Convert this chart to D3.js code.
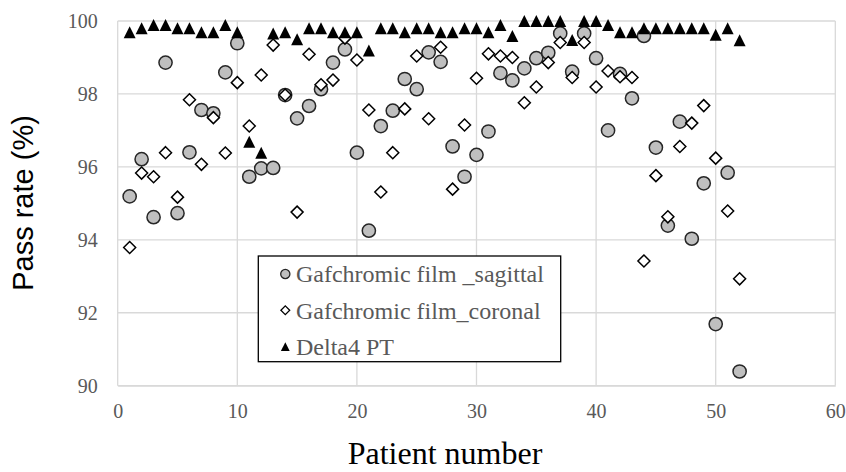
<!DOCTYPE html>
<html>
<head>
<meta charset="utf-8">
<script src="https://cdn.jsdelivr.net/npm/d3@7"></script>
<style>
  body { margin: 0; background: #fff; }
  .serif { font-family: "Liberation Serif", Tinos, "Times New Roman", "DejaVu Serif", serif; }
</style>
</head>
<body>
<div id="chart"></div>
<script>
// Pass rate per patient - three measurement methods

const patients = [1,2,3,4,5,6,7,8,9,10,11,12,13,14,15,16,17,18,19,20,21,22,23,24,25,26,
  27,28,29,30,31,32,33,34,35,36,37,38,39,40,41,42,43,44,45,46,47,48,49,50,51,52];

const sagittal = [95.19, 96.21, 94.62, 98.86, 94.73, 96.40, 97.56, 97.47, 98.59, 99.39,
  95.73, 95.96, 95.97, 97.97, 97.33, 97.67, 98.13, 98.86, 99.22, 96.39,
  94.25, 97.12, 97.54, 98.41, 98.13, 99.14, 98.88, 96.56, 95.73, 96.33,
  96.97, 98.57, 98.37, 98.70, 98.98, 99.13, 99.66, 98.61, 99.66, 98.98,
  97.00, 98.55, 97.88, 99.59, 96.53, 94.39, 97.24, 94.03, 95.55, 91.69,
  95.84, 90.39];

const coronal = [93.79, 95.83, 95.73, 96.39, 95.17, 97.84, 96.07, 97.35, 96.38, 98.31,
  97.12, 98.52, 99.34, 97.97, 94.76, 99.09, 98.25, 98.38, 99.53, 98.93,
  97.56, 95.31, 96.39, 97.59, 99.04, 97.32, 99.28, 95.39, 97.15, 98.43,
  99.10, 99.04, 99.00, 97.76, 98.19, 98.86, 99.41, 98.45, 99.41, 98.19,
  98.63, 98.47, 98.45, 93.42, 95.76, 94.63, 96.56, 97.20, 97.68, 96.24,
  94.79, 92.93];

const delta4 = [99.69, 99.80, 99.89, 99.89, 99.80, 99.80, 99.69, 99.69, 99.89, 99.69,
  96.69, 96.39, 99.66, 99.69, 99.50, 99.80, 99.80, 99.69, 99.69, 99.69,
  99.19, 99.80, 99.80, 99.69, 99.80, 99.80, 99.69, 99.69, 99.80, 99.80,
  99.69, 99.89, 99.59, 100, 100, 100, 100, 99.48, 100, 100,
  99.89, 99.69, 99.69, 99.80, 99.80, 99.80, 99.80, 99.80, 99.80, 99.62,
  99.80, 99.47];

const seriesNames = ["Gafchromic film _sagittal", "Gafchromic film_coronal", "Delta4 PT"];
const xTicks = [0, 10, 20, 30, 40, 50, 60];
const yTicks = [90, 92, 94, 96, 98, 100];

const W = 846, H = 472;
const margin = { top: 21, right: 10.7, bottom: 86.3, left: 117.7 },
      width = W - margin.left - margin.right,
      height = H - margin.top - margin.bottom;

const svg = d3.select("#chart")
  .append("svg")
    .attr("width", W)
    .attr("height", H);

const g = svg.append("g")
    .attr("transform", `translate(${margin.left},${margin.top})`);

const x = d3.scaleLinear().domain([0, 60]).range([0, width]);
const y = d3.scaleLinear().domain([90, 100]).range([height, 0]);

const gray = "#595959";
const gridColor = "#d9d9d9";

// grid
g.append("g")
  .selectAll("line")
  .data(yTicks)
  .enter().append("line")
    .attr("x1", 0).attr("x2", width)
    .attr("y1", d => y(d)).attr("y2", d => y(d))
    .attr("stroke", gridColor).attr("stroke-width", 1.3);

g.append("g")
  .selectAll("line")
  .data(xTicks)
  .enter().append("line")
    .attr("x1", d => x(d)).attr("x2", d => x(d))
    .attr("y1", 0).attr("y2", height)
    .attr("stroke", gridColor).attr("stroke-width", 1.3);

// axes (labels only)
const xAxis = g.append("g")
  .attr("transform", `translate(0,${height})`)
  .call(d3.axisBottom(x).tickValues(xTicks).tickSize(0).tickPadding(18));
xAxis.attr("font-family", null).attr("font-size", null);
xAxis.select(".domain").attr("stroke", gridColor).attr("stroke-width", 1.3);
xAxis.selectAll("text")
  .attr("class", "serif").style("font-size", "20px").attr("fill", gray);

const yAxis = g.append("g")
  .call(d3.axisLeft(y).tickValues(yTicks).tickSize(0).tickPadding(20));
yAxis.attr("font-family", null).attr("font-size", null);
yAxis.select(".domain").remove();
yAxis.selectAll("text")
  .attr("class", "serif").style("font-size", "20px").attr("fill", gray);

// markers
const circle = r => `M${-r},0A${r},${r} 0 1,0 ${r},0A${r},${r} 0 1,0 ${-r},0Z`;
const diamond = s => `M0,${-s}L${s},0L0,${s}L${-s},0Z`;
const triangle = s => `M0,${-s}L${s},${s}L${-s},${s}Z`;

const sagData = patients.map((p, i) => ({ p, v: sagittal[i] }));
const corData = patients.map((p, i) => ({ p, v: coronal[i] }));
const deltaData = patients.map((p, i) => ({ p, v: delta4[i] }));

g.append("g").selectAll("path")
  .data(sagData)
  .enter().append("path")
    .attr("d", circle(6.6))
    .attr("transform", d => `translate(${x(d.p)},${y(d.v)})`)
    .attr("fill", "#bfbfbf")
    .attr("stroke", "#262626")
    .attr("stroke-width", 1.5);

g.append("g").selectAll("path")
  .data(corData)
  .enter().append("path")
    .attr("d", diamond(6))
    .attr("transform", d => `translate(${x(d.p)},${y(d.v)})`)
    .attr("fill", "#fff")
    .attr("stroke", "#000")
    .attr("stroke-width", 1.5);

g.append("g").selectAll("path")
  .data(deltaData)
  .enter().append("path")
    .attr("d", triangle(6))
    .attr("transform", d => `translate(${x(d.p)},${y(d.v)})`)
    .attr("fill", "#000");

// legend
const legend = svg.append("g").attr("transform", "translate(258.3,256)");
legend.append("rect")
  .attr("width", 302.4).attr("height", 105.7)
  .attr("fill", "#fff").attr("stroke", "#000").attr("stroke-width", 1.3);

const legendItems = [
  { name: seriesNames[0], d: circle(4.6), fill: "#bfbfbf", stroke: "#262626" },
  { name: seriesNames[1], d: diamond(4.4), fill: "#fff", stroke: "#000" },
  { name: seriesNames[2], d: triangle(4.4), fill: "#000", stroke: "none" }
];

const item = legend.selectAll("g.item")
  .data(legendItems)
  .enter().append("g")
    .attr("class", "item")
    .attr("transform", (d, i) => `translate(0,${18 + i * 36.3})`);

item.append("path")
  .attr("d", d => d.d)
  .attr("transform", "translate(27,0)")
  .attr("fill", d => d.fill)
  .attr("stroke", d => d.stroke)
  .attr("stroke-width", 1.3);

item.append("text")
  .attr("class", "serif")
  .attr("x", 37.7)
  .attr("y", 8.3)
  .style("font-size", "24px")
  .attr("fill", gray)
  .text(d => d.name);

// axis titles
svg.append("text")
  .attr("class", "serif")
  .attr("x", 445)
  .attr("y", 464)
  .attr("text-anchor", "middle")
  .style("font-size", "32px")
  .attr("fill", "#000")
  .text("Patient number");

svg.append("text")
  .attr("transform", "translate(33,203) rotate(-90)")
  .attr("text-anchor", "middle")
  .attr("font-family", "'Liberation Sans', Arial, sans-serif")
  .attr("font-size", 29)
  .attr("fill", "#000")
  .text("Pass rate (%)");
</script>
</body>
</html>
